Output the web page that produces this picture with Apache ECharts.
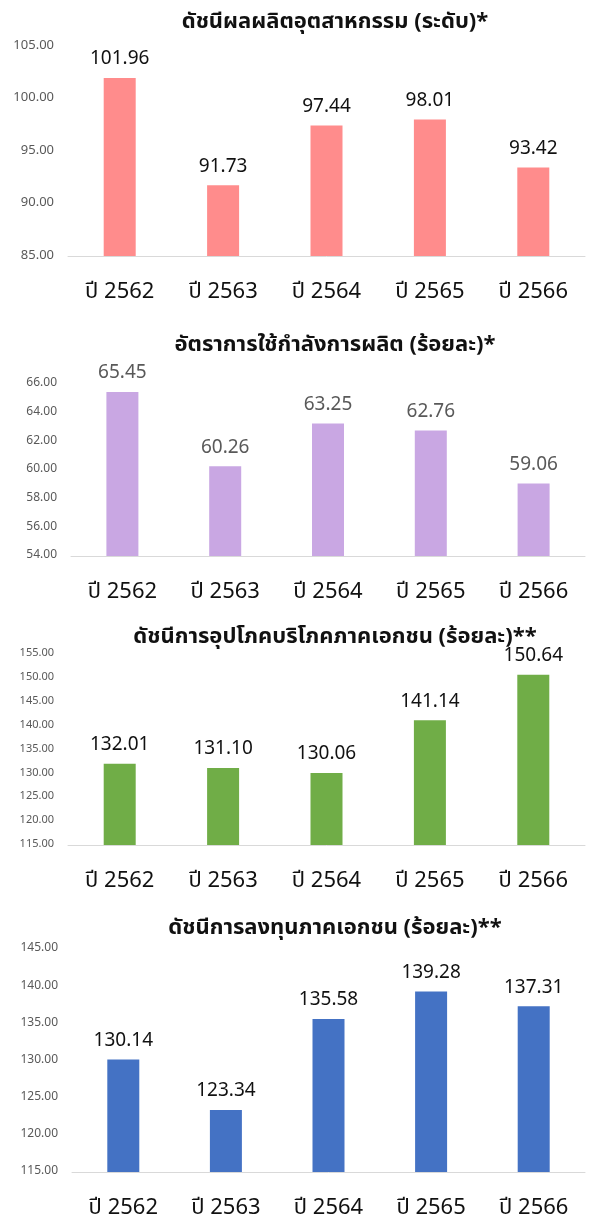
<!DOCTYPE html>
<html><head><meta charset="utf-8">
<script src="https://cdn.jsdelivr.net/npm/echarts@6/dist/echarts.min.js"></script>
<style>html,body{margin:0;padding:0;background:#fff}#c{width:590px;height:1215px}</style>
</head><body><div id="c"></div>
<script>
const categories = ['ปี 2562','ปี 2563','ปี 2564','ปี 2565','ปี 2566'];
const titles = ['ดัชนีผลผลิตอุตสาหกรรม (ระดับ)*','อัตราการใช้กำลังการผลิต (ร้อยละ)*','ดัชนีการอุปโภคบริโภคภาคเอกชน (ร้อยละ)**','ดัชนีการลงทุนภาคเอกชน (ร้อยละ)**'];
const industrialIndex = [101.96, 91.73, 97.44, 98.01, 93.42];
const capacityUtil = [65.45, 60.26, 63.25, 62.76, 59.06];
const consumptionIndex = [132.01, 131.10, 130.06, 141.14, 150.64];
const investmentIndex = [130.14, 123.34, 135.58, 139.28, 137.31];
const yMin = [85, 54, 115, 115];
const yMax = [105, 66, 155, 145];
const yStep = [5, 2, 5, 5];

const seriesData = [industrialIndex, capacityUtil, consumptionIndex, investmentIndex];
const colors = ['#FF8C8C', '#C9A7E3', '#70AD47', '#4472C4'];
const labelColors = ['#111', '#595959', '#111', '#111'];
const grids = [
  {left:68, right:5, top:46, height:210, outerBoundsMode:'none'},
  {left:71, right:5, top:384, height:172, outerBoundsMode:'none'},
  {left:68, right:5, top:654, height:191, outerBoundsMode:'none'},
  {left:72, right:5, top:949, height:223, outerBoundsMode:'none'}
];
const titleTops = [8, 331, 623, 914];
const yFont = [13, 12, 11, 12];
const FONT = 'Tahoma, "Noto Sans Thai", "Noto Sans", sans-serif';

const option = {
  animation:false,
  textStyle:{fontFamily:FONT},
  title: titles.map((t,i)=>({text:t, left:330, textAlign:'center', top:titleTops[i],
    textStyle:{fontSize:22, fontWeight:'bold', color:'#111', fontFamily:FONT}})),
  grid: grids,
  xAxis: grids.map((g,i)=>({type:'category', gridIndex:i, data:categories,
    axisLine:{lineStyle:{color:'#D9D9D9'}}, axisTick:{show:false},
    axisLabel:{fontSize:22, color:'#111', margin:27, fontWeight:'normal', fontFamily:FONT}})),
  yAxis: grids.map((g,i)=>({type:'value', gridIndex:i, min:yMin[i], max:yMax[i], interval:yStep[i],
    splitLine:{show:false}, axisLine:{show:false}, axisTick:{show:false},
    axisLabel:{fontSize:yFont[i], color:'#595959', margin:14, formatter:v=>v.toFixed(2), fontFamily:FONT}})),
  series: seriesData.map((d,i)=>({type:'bar', xAxisIndex:i, yAxisIndex:i, data:d, barWidth:32,
    itemStyle:{color:colors[i]},
    label:{show:true, position:'top', distance:8, fontSize:19, color:labelColors[i], fontFamily:FONT,
      formatter:p=>p.value.toFixed(2)}}))
};
echarts.init(document.getElementById('c')).setOption(option);
</script></body></html>
